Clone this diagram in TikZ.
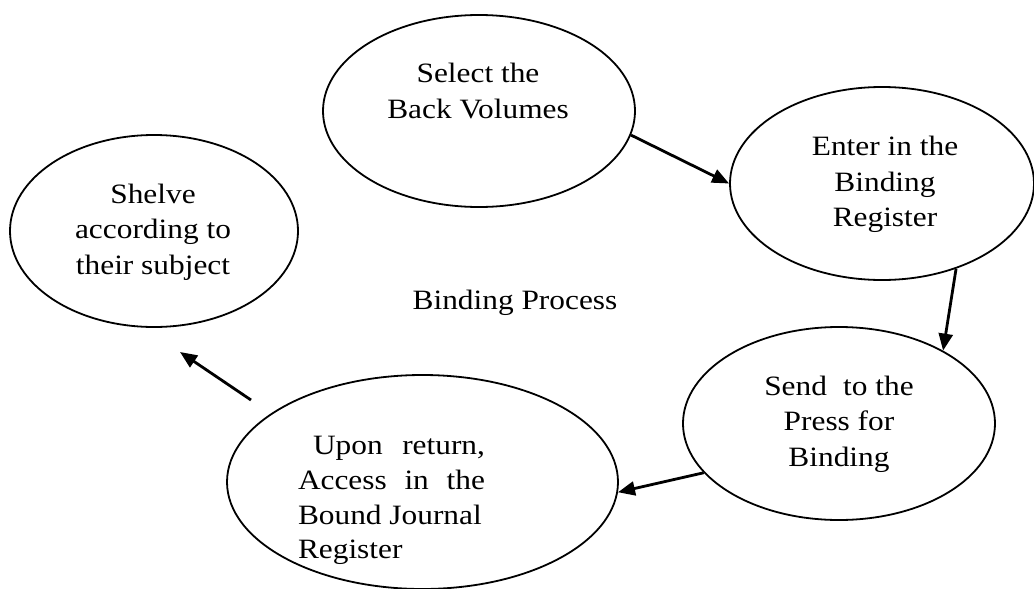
\documentclass[tikz,border=0pt]{standalone}
\usepackage{fontspec}
\setmainfont[FakeStretch=1.12]{Liberation Serif}
\usetikzlibrary{shapes.geometric,arrows.meta}
\begin{document}
\begin{tikzpicture}[x=1pt,y=-1pt,
  stage/.style={draw=black,ellipse,line width=1.8pt,inner sep=0pt},
  label/.style={font=\fontsize{28}{35.5}\selectfont,align=center,inner sep=0pt},
  flow/.style={line width=2.8pt,-{Triangle[length=17pt,width=14pt]}}]
\useasboundingbox (0,0) rectangle (1034,589);
\node[stage,minimum width=312pt,minimum height=192pt] (sel) at (479,111) {};
\node[stage,minimum width=304pt,minimum height=193pt] (ent) at (882,183.5) {};
\node[stage,minimum width=288pt,minimum height=192pt] (shl) at (154,231) {};
\node[stage,minimum width=312pt,minimum height=193pt] (snd) at (839,423.5) {};
\node[stage,minimum width=391pt,minimum height=214pt] (upn) at (422.5,482) {};
\node[label] (tsel) at (478,91) {Select the\\Back Volumes};
\node[label] (tent) at (885,184.5) {Enter in the\\Binding\\Register};
\node[label] (tshl) at (153,232) {Shelve\\according to\\their subject};
\node[label] (tsnd) at (839,424) {Send\hspace{0.3em} to the\\Press for\\Binding};
\node[label] (tbp) at (515,303) {Binding Process};
\node[label,align=left,font=\fontsize{28}{34.7}\selectfont] (tupn) at (391.5,500.5) {\hbox to 187pt{\hspace{15pt}Upon\hfill return,}\\\hbox to 187pt{Access\hfill in\hfill the}\\\hbox to 187pt{Bound Journal\hfill}\\Register};
\coordinate (a4s) at (251,400);
\coordinate (a4e) at (180,352);
\draw[flow] (sel.-9.5) -- (ent.180);
\draw[flow] (ent.-49.6) -- (snd.35.3);
\draw[flow] (snd.200.2) -- (upn.-3.9);
\draw[flow] (a4s) -- (a4e);
\end{tikzpicture}
\end{document}
